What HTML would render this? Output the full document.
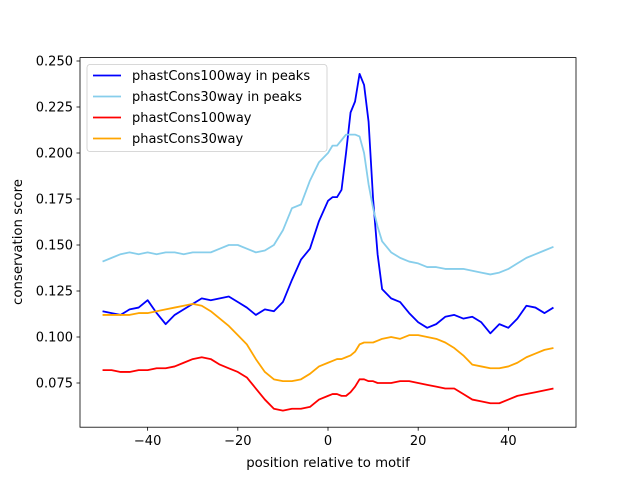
<!DOCTYPE html>
<html><head><meta charset="utf-8"><style>
body{margin:0;background:#fff;}
svg{display:block;font-family:"DejaVu Sans","Liberation Sans",sans-serif;}
</style></head><body>
<svg id="chart" width="640" height="480">
<rect x="0" y="0" width="640" height="480" fill="#fff"/>
<g id="plot"></g>
<rect x="80" y="57.6" width="496" height="369.6" fill="none" stroke="#000" stroke-width="0.8"/>
<g id="ticks"></g>
<text x="328" y="467" text-anchor="middle" font-size="13.3">position relative to motif</text>
<text transform="translate(22,242) rotate(-90)" text-anchor="middle" font-size="13.3">conservation score</text>
<g>
<rect x="87" y="64.5" width="240" height="87" rx="3" fill="#fff" fill-opacity="0.8" stroke="#ccc" stroke-width="0.8"/>
<g><line x1="93" y1="75.5" x2="121" y2="75.5" stroke="#0000ff" stroke-width="1.8"/><text x="132" y="80" font-size="13">phastCons100way in peaks</text></g>
<g><line x1="93" y1="96.5" x2="121" y2="96.5" stroke="#87ceeb" stroke-width="1.8"/><text x="132" y="101" font-size="13">phastCons30way in peaks</text></g>
<g><line x1="93" y1="117.5" x2="121" y2="117.5" stroke="#ff0000" stroke-width="1.8"/><text x="132" y="122" font-size="13">phastCons100way</text></g>
<g><line x1="93" y1="138.5" x2="121" y2="138.5" stroke="#ffa500" stroke-width="1.8"/><text x="132" y="143" font-size="13">phastCons30way</text></g>
</g>
</svg>
<script>
const positions = [-50,-48,-46,-44,-42,-40,-38,-36,-34,-32,-30,-28,-26,-24,-22,-20,-18,-16,-14,-12,-10,-8,-6,-4,-2,0,1,2,3,4,5,6,7,8,9,10,11,12,14,16,18,20,22,24,26,28,30,32,34,36,38,40,42,44,46,48,50];
const blue100Peaks = [0.114,0.113,0.112,0.115,0.116,0.120,0.113,0.107,0.112,0.115,0.118,0.121,0.120,0.121,0.122,0.119,0.116,0.112,0.115,0.114,0.119,0.131,0.142,0.148,0.163,0.174,0.176,0.176,0.180,0.200,0.222,0.228,0.243,0.237,0.217,0.175,0.145,0.126,0.121,0.119,0.113,0.108,0.105,0.107,0.111,0.112,0.110,0.111,0.108,0.102,0.107,0.105,0.110,0.117,0.116,0.113,0.116];
const sky30Peaks = [0.141,0.143,0.145,0.146,0.145,0.146,0.145,0.146,0.146,0.145,0.146,0.146,0.146,0.148,0.150,0.150,0.148,0.146,0.147,0.150,0.158,0.170,0.172,0.185,0.195,0.200,0.204,0.204,0.207,0.210,0.210,0.210,0.209,0.200,0.183,0.170,0.160,0.152,0.146,0.143,0.141,0.140,0.138,0.138,0.137,0.137,0.137,0.136,0.135,0.134,0.135,0.137,0.140,0.143,0.145,0.147,0.149];
const red100 = [0.082,0.082,0.081,0.081,0.082,0.082,0.083,0.083,0.084,0.086,0.088,0.089,0.088,0.085,0.083,0.081,0.078,0.072,0.066,0.061,0.060,0.061,0.061,0.062,0.066,0.068,0.069,0.069,0.068,0.068,0.070,0.073,0.077,0.077,0.076,0.076,0.075,0.075,0.075,0.076,0.076,0.075,0.074,0.073,0.072,0.072,0.069,0.066,0.065,0.064,0.064,0.066,0.068,0.069,0.070,0.071,0.072];
const orange30 = [0.112,0.112,0.112,0.112,0.113,0.113,0.114,0.115,0.116,0.117,0.118,0.117,0.114,0.110,0.106,0.101,0.096,0.088,0.081,0.077,0.076,0.076,0.077,0.080,0.084,0.086,0.087,0.088,0.088,0.089,0.090,0.092,0.096,0.097,0.097,0.097,0.098,0.099,0.100,0.099,0.101,0.101,0.100,0.099,0.097,0.094,0.090,0.085,0.084,0.083,0.083,0.084,0.086,0.089,0.091,0.093,0.094];
const xTicks = [-40,-20,0,20,40];
const xTickLabels = ["−40","−20","0","20","40"];
const yTicks = [0.075,0.100,0.125,0.150,0.175,0.200,0.225,0.250];
const yTickLabels = ["0.075","0.100","0.125","0.150","0.175","0.200","0.225","0.250"];

const NS="http://www.w3.org/2000/svg";
const xs = v => 80 + (v + 55) * 496 / 110;
const ys = v => 383 - (v - 0.075) * 1840;
const plot = document.getElementById('plot');
const ticks = document.getElementById('ticks');
function addLine(vals, color, name){
  const p = document.createElementNS(NS,'polyline');
  p.setAttribute('points', positions.map((x,i)=>xs(x).toFixed(2)+','+ys(vals[i]).toFixed(2)).join(' '));
  p.setAttribute('fill','none');p.setAttribute('stroke',color);p.setAttribute('stroke-width','1.8');
  p.setAttribute('stroke-linejoin','round');
  
  
  plot.appendChild(p);
}
addLine(blue100Peaks,'#0000ff','series-phastcons100way-in-peaks');
addLine(sky30Peaks,'#87ceeb','series-phastcons30way-in-peaks');
addLine(red100,'#ff0000','series-phastcons100way');
addLine(orange30,'#ffa500','series-phastcons30way');
xTicks.forEach((t,i)=>{
  const l=document.createElementNS(NS,'line');
  l.setAttribute('x1',xs(t));l.setAttribute('x2',xs(t));l.setAttribute('y1',427.2);l.setAttribute('y2',430.7);
  l.setAttribute('stroke','#000');l.setAttribute('stroke-width','0.8');
  
  
  ticks.appendChild(l);
  const tx=document.createElementNS(NS,'text');
  tx.setAttribute('x',xs(t));tx.setAttribute('y',445);tx.setAttribute('text-anchor','middle');tx.setAttribute('font-size','13');
  tx.textContent=xTickLabels[i];
  
  
  ticks.appendChild(tx);
});
yTicks.forEach((t,i)=>{
  const l=document.createElementNS(NS,'line');
  l.setAttribute('x1',76.5);l.setAttribute('x2',80);l.setAttribute('y1',ys(t));l.setAttribute('y2',ys(t));
  l.setAttribute('stroke','#000');l.setAttribute('stroke-width','0.8');
  
  
  ticks.appendChild(l);
  const tx=document.createElementNS(NS,'text');
  tx.setAttribute('x',73);tx.setAttribute('y',ys(t)+4.5);tx.setAttribute('text-anchor','end');tx.setAttribute('font-size','13');
  tx.textContent=yTickLabels[i];
  
  
  ticks.appendChild(tx);
});
</script>
</body></html>
